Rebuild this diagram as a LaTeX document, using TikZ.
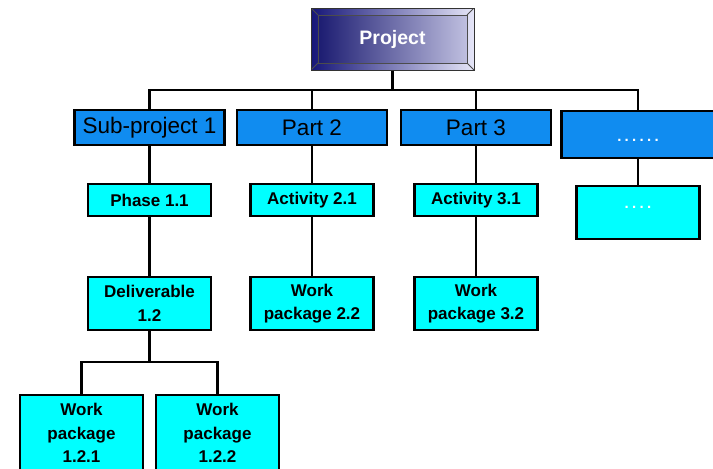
\documentclass[tikz,border=0pt]{standalone}
\usepackage{fontspec}
\setmainfont{Liberation Sans}
\usetikzlibrary{calc}

\definecolor{partblue}{RGB}{16,140,240}
\definecolor{taskcyan}{RGB}{0,255,255}
\definecolor{projnavy}{RGB}{22,22,120}
\definecolor{projlight}{RGB}{230,230,248}

\tikzset{
	wbsline/.style={line width=2.4pt},
	projbox/.style={draw=black!80, line width=1pt, left color=projnavy, right color=projlight,
		minimum width=163pt, minimum height=62pt, inner sep=0pt,
		text=white, font=\fontsize{19.5}{22}\selectfont\bfseries},
	partbox/.style={draw, line width=2.4pt, fill=partblue, minimum width=150pt, minimum height=35pt,
		inner sep=0pt, font=\fontsize{22.5}{24}\selectfont},
	taskbox/.style={draw, line width=2.4pt, fill=taskcyan, minimum width=123pt, minimum height=32pt,
		inner sep=0pt, align=center, font=\fontsize{17}{23.5}\selectfont\bfseries},
	dotstext/.style={text=white, font=\fontsize{15}{17}\selectfont\bfseries\addfontfeature{LetterSpace=22}},
}

\begin{document}
\begin{tikzpicture}[x=1pt, y=-1pt]
	%%%%% FRAME %%%%%
	\useasboundingbox (0,0) rectangle (713,469);
	\clip (0,0) rectangle (713,469);
	
	%%%%% TOP %%%%%
	\node[projbox, path picture={
		\shade[left color=projnavy!90!black, right color=projlight!85!projnavy]
			($(path picture bounding box.north west)+(7,7)$) rectangle ($(path picture bounding box.south east)+(-7,-7)$);
		\draw[black!70, line width=0.8pt] ($(path picture bounding box.north west)+(7,7)$) rectangle ($(path picture bounding box.south east)+(-7,-7)$);
		\draw[black!70, line width=0.8pt] (path picture bounding box.north west) -- ++(7,7);
		\draw[black!70, line width=0.8pt] (path picture bounding box.north east) -- ++(-7,7);
		\draw[black!70, line width=0.8pt] (path picture bounding box.south west) -- ++(7,-7);
		\draw[black!70, line width=0.8pt] (path picture bounding box.south east) -- ++(-7,-7);
	}] (project) at (392.5, 39) {Project};
	
	%%%%% LEVEL 1 %%%%%
	\node[partbox] (sub1) at (149.5, 127.5) {Sub-project 1};
	\node[partbox] (part2) at (312, 127.5) {Part 2};
	\node[partbox] (part3) at (476, 127.5) {Part 3};
	\node[partbox, dotstext, anchor=north, minimum width=153pt, text height=30pt, text depth=17pt] (partmore) at (638, 110) {......};
	
	%%%%% LEVEL 2 %%%%%
	\node[taskbox] (phase11) at (149.5, 200) {Phase 1.1};
	\node[taskbox] (act21) at (312, 200) {Activity 2.1};
	\node[taskbox] (act31) at (476, 200) {Activity 3.1};
	\node[taskbox, dotstext, anchor=north, text height=22pt, text depth=31pt] (taskmore) at (638, 185) {....};
	
	%%%%% LEVEL 3 %%%%%
	\node[taskbox, minimum height=53pt] (deliv12) at (149.5, 303.5) {Deliverable\\1.2};
	\node[taskbox, minimum height=53pt] (wp22) at (312, 303.5) {Work\\package 2.2};
	\node[taskbox, minimum height=53pt] (wp32) at (476, 303.5) {Work\\package 3.2};
	
	%%%%% LEVEL 4 %%%%%
	\node[taskbox, anchor=north, minimum height=76pt] (wp121) at (81.5, 394) {Work\\package\\1.2.1};
	\node[taskbox, anchor=north, minimum height=76pt] (wp122) at (217.5, 394) {Work\\package\\1.2.2};
	
	%%%%% LINES %%%%%
	\coordinate (topbar) at (392.5, 90);
	\coordinate (delbar) at (149.5, 362);
	
	\draw[wbsline] (project.south) -- (topbar);
	\draw[wbsline] (sub1.north) |- (topbar);
	\draw[wbsline] (part2.north) |- (topbar);
	\draw[wbsline] (part3.north) |- (topbar);
	\draw[wbsline] (partmore.north) |- (topbar);
	
	\draw[wbsline] (sub1.south) -- (phase11.north);
	\draw[wbsline] (part2.south) -- (act21.north);
	\draw[wbsline] (part3.south) -- (act31.north);
	\draw[wbsline] (partmore.south) -- (taskmore.north);
	
	\draw[wbsline] (phase11.south) -- (deliv12.north);
	\draw[wbsline] (act21.south) -- (wp22.north);
	\draw[wbsline] (act31.south) -- (wp32.north);
	
	\draw[wbsline] (deliv12.south) -- (delbar);
	\draw[wbsline] (wp121.north) |- (delbar);
	\draw[wbsline] (wp122.north) |- (delbar);
	
	%%%%% END %%%%%
\end{tikzpicture}
\end{document}
